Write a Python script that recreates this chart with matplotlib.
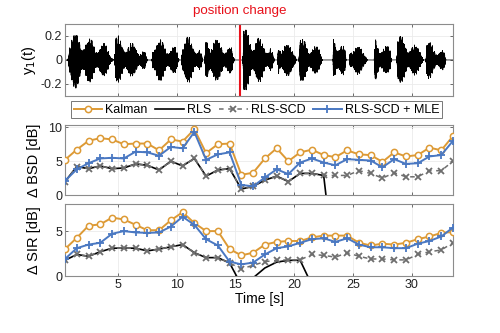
import numpy as np
import matplotlib
matplotlib.use("Agg")
import matplotlib.pyplot as plt

plt.rcParams['font.family'] = ['Liberation Sans', 'DejaVu Sans']

# ---------------- data ----------------
t = np.arange(0.5, 34.0, 1.0)  # 34 evaluation points

bsd_kalman = [5.2, 6.7, 8.0, 8.4, 8.2, 7.5, 7.6, 7.6, 6.6, 8.2, 7.9, 9.7, 6.2, 7.5, 7.6, 3.0,
              3.3, 5.4, 6.9, 5.0, 6.3, 6.7, 5.9, 5.6, 6.6, 6.0, 5.9, 4.9, 6.3, 5.7, 5.9, 7.0, 6.6, 8.7]
bsd_mle = [2.1, 3.8, 4.7, 5.4, 5.5, 5.4, 6.4, 6.3, 5.8, 7.1, 6.9, 9.3, 5.2, 6.0, 6.3, 1.5,
           1.3, 2.6, 3.8, 3.1, 4.8, 5.4, 4.8, 4.4, 5.3, 5.2, 5.1, 4.1, 5.3, 4.6, 4.7, 5.7, 5.9, 8.0]
bsd_scd = [2.0, 4.2, 3.9, 4.3, 3.9, 4.0, 4.6, 4.4, 3.7, 5.0, 4.3, 5.4, 2.8, 3.7, 3.9, 0.9,
           1.3, 2.2, 2.8, 2.0, 3.2, 3.2, 2.9, 2.9, 2.9, 3.6, 3.2, 2.5, 3.3, 2.7, 2.7, 3.6, 3.6, 5.0]
bsd_rls = [2.0, 4.2, 3.9, 4.3, 3.9, 4.0, 4.6, 4.4, 3.7, 5.0, 4.3, 5.4, 2.8, 3.7, 3.9, 0.9,
           1.3, 2.2, 2.8, 2.0, 3.2, 3.2, 2.9, -12.0] + [np.nan] * 10

sir_kalman = [3.0, 4.25, 5.6, 5.75, 6.5, 6.3, 5.7, 5.1, 5.1, 6.2, 7.1, 5.9, 5.0, 5.0, 3.0, 2.3,
              2.6, 3.5, 3.8, 3.9, 3.9, 4.3, 4.5, 4.5, 4.5, 3.7, 3.4, 3.6, 3.5, 3.7, 4.1, 4.4, 4.8, 4.9]
sir_mle = [1.9, 3.1, 3.5, 3.7, 4.7, 5.0, 4.85, 4.8, 4.85, 5.5, 6.6, 5.7, 4.1, 3.4, 1.6, 1.3,
           1.5, 2.4, 3.1, 3.3, 3.7, 4.1, 4.2, 3.8, 4.2, 3.5, 3.2, 3.2, 3.1, 3.1, 3.6, 3.9, 4.4, 5.4]
sir_scd = [1.75, 2.4, 2.2, 2.7, 3.1, 3.1, 3.1, 2.8, 3.0, 3.25, 3.5, 2.6, 2.05, 2.05, 1.45, 0.8,
           1.2, 1.6, 1.75, 1.8, 1.8, 2.4, 2.3, 2.1, 2.6, 2.2, 1.9, 1.9, 1.8, 1.8, 2.4, 2.7, 2.9, 3.7]
sir_rls = [1.75, 2.4, 2.2, 2.7, 3.1, 3.1, 3.1, 2.8, 3.0, 3.25, 3.5, 2.6, 2.05, 2.05, 1.45, -1.0,
           -0.2, 0.9, 1.55, 1.75, 1.75, -1.0] + [np.nan] * 12

# speech bursts of the microphone signal: start [s], end [s], peak amplitude
burst_start = [0.75, 4.7, 7.9, 10.4, 12.4, 15.6, 18.6, 20.4, 23.3, 24.7, 26.8, 28.7, 31.2]
burst_end   = [4.6, 7.5, 10.2, 12.2, 14.9, 18.3, 20.2, 22.4, 24.4, 26.2, 28.3, 31.0, 32.9]
burst_peak  = [0.27, 0.22, 0.22, 0.25, 0.25, 0.28, 0.21, 0.21, 0.26, 0.18, 0.21, 0.23, 0.18]

position_change = 15.4

# ---------------- waveform (envelope from bursts, deterministic carrier) ----------------
fs = 1500
ts = np.arange(0.5, 33.5, 1.0 / fs)
env = np.zeros_like(ts)
for s, e, p in zip(burst_start, burst_end, burst_peak):
    m = (ts >= s) & (ts <= e)
    u = (ts[m] - s) / (e - s)
    shape = np.minimum(1.0, u / 0.04) * (1 - 0.6 * u) * np.minimum(1.0, (1 - u) / 0.1)
    env[m] = p * shape
m1 = np.abs(np.sin(2 * np.pi * 5.3 * ts + 0.2))
m2 = np.abs(np.sin(2 * np.pi * 2.9 * ts + 1.0))
m3 = 0.55 + 0.45 * np.sin(2 * np.pi * 0.83 * ts + 0.5)
m4 = np.abs(np.sin(2 * np.pi * 8.7 * ts + 2.1))
amp_pos = 0.18 + 0.82 * (m1 * m2 * m3) ** 0.7
amp_neg = 0.18 + 0.82 * (m4 * m2 * m3) ** 0.7
carrier = np.sin(2 * np.pi * 211.7 * ts)
wave = env * carrier * np.where(carrier > 0, amp_pos, amp_neg)

# ---------------- figure ----------------
fig = plt.figure(figsize=(5.0, 3.33), dpi=100)
L, W = 0.13, 0.776
ax1 = fig.add_axes([L, 0.712, W, 0.216])
ax2 = fig.add_axes([L, 0.414, W, 0.21])
ax3 = fig.add_axes([L, 0.171, W, 0.216])

c_kal = '#DD9A35'
c_mle = '#4A78C2'
c_scd = '#6E6E6E'
c_rls = 'black'
fs_tick = 9
fs_lab = 10.5

for ax in (ax1, ax2, ax3):
    ax.set_xlim(0.5, 33.5)
    ax.set_xticks([5, 10, 15, 20, 25, 30])
    ax.grid(True, color='#EBEBEB', lw=0.6)
    ax.set_axisbelow(True)
    ax.tick_params(direction='in', length=2.5, width=0.6, colors='#555555',
                   labelsize=fs_tick, labelcolor='#222222', top=True, right=True, pad=2)
    for sp in ax.spines.values():
        sp.set_color('#8C8C8C')
        sp.set_linewidth(0.8)

ax1.plot(ts, wave, color='black', lw=0.5)
ax1.axvline(position_change, color='#E8101A', lw=1.5)
ax1.set_ylim(-0.3, 0.3)
ax1.set_yticks([-0.2, 0, 0.2])
ax1.set_yticklabels(['-0.2', '0', '0.2'])
ax1.set_xticklabels([])
ax1.set_ylabel('y$_1$(t)', fontsize=fs_lab, labelpad=2)
ax1.text(position_change, 0.36, 'position change', color='#E8101A', fontsize=9.6,
         ha='center', va='bottom', transform=ax1.transData)


def panel(ax, kal, rls, scd, mle):
    h1, = ax.plot(t, kal, color=c_kal, lw=1.4, marker='o', ms=4.5, mfc='white',
                  mec=c_kal, mew=1.1, zorder=3, label='Kalman')
    h2, = ax.plot(t, rls, color=c_rls, lw=1.2, zorder=2, label='RLS')
    h3, = ax.plot(t, scd, color=c_scd, lw=1.1, ls=(0, (3, 3)), marker='x', ms=4,
                  mew=1.3, zorder=2.5, label='RLS-SCD')
    h4, = ax.plot(t, mle, color=c_mle, lw=1.4, marker='+', ms=6, mew=1.3,
                  zorder=4, label='RLS-SCD + MLE')
    return [h1, h2, h3, h4]


handles = panel(ax2, bsd_kalman, bsd_rls, bsd_scd, bsd_mle)
ax2.set_ylim(0, 10.3)
ax2.set_yticks([0, 5, 10])
ax2.set_xticklabels([])
ax2.set_ylabel('Δ BSD [dB]', fontsize=fs_lab, labelpad=5)

panel(ax3, sir_kalman, sir_rls, sir_scd, sir_mle)
ax3.set_ylim(0, 8)
ax3.set_yticks([0, 5])
ax3.set_ylabel('Δ SIR [dB]', fontsize=fs_lab, labelpad=10)
ax3.set_xlabel('Time [s]', fontsize=10, labelpad=1)

leg = fig.legend(handles=handles, loc='center', bbox_to_anchor=(0.513, 0.67), ncol=4,
                 fontsize=9, frameon=True, fancybox=False, edgecolor='#555555',
                 handlelength=2.3, handletextpad=0.25, columnspacing=0.6,
                 borderpad=0.2, borderaxespad=0)
leg.get_frame().set_linewidth(0.7)

fig.savefig('out.png', dpi=100)
